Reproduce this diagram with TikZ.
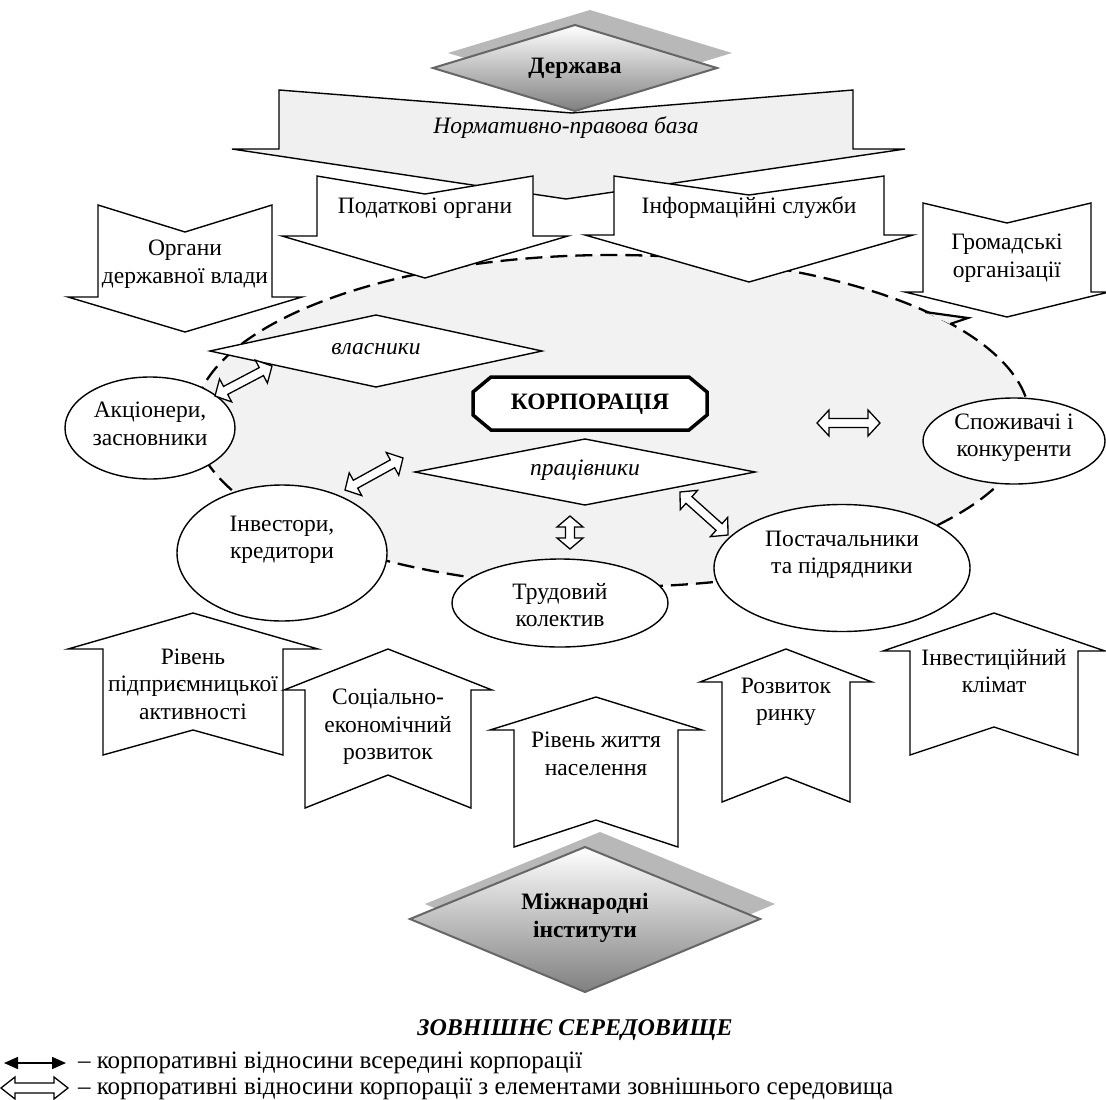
\documentclass[tikz,border=0pt]{standalone}
\usepackage{fontspec}
\setmainfont{Liberation Serif}
\usetikzlibrary{arrows.meta,shapes.geometric}
\newcommand\dnarr[7]{%
  \draw[blockarr] ({#1-#4},#2) -- (#1,#3) -- ({#1+#4},#2) -- ({#1+#4},#5) -- ({#1+#6},#5) -- (#1,#7) -- ({#1-#6},#5) -- ({#1-#4},#5) -- cycle;}
\newcommand\uparr[7]{%
  \draw[blockarr] (#1,#2) -- ({#1+#4},#3) -- ({#1+#5},#3) -- ({#1+#5},#6) -- (#1,#7) -- ({#1-#5},#6) -- ({#1-#5},#3) -- ({#1-#4},#3) -- cycle;}
\newcommand\hollowarr[5]{%
  \pgfpointdiff{\pgfpointanchor{#1}{center}}{\pgfpointanchor{#2}{center}}%
  \pgfgetlastxy{\hax}{\hay}%
  \pgfmathsetmacro\hlen{veclen(\hax,\hay)}%
  \pgfmathsetmacro\hang{atan2(\hay,\hax)}%
  \draw[hollow,shift={(#1)},rotate=\hang] (0,0) -- (#3,#4) -- (#3,#5) -- ({\hlen-#3},#5) -- ({\hlen-#3},#4) -- (\hlen,0) -- ({\hlen-#3},-#4) -- ({\hlen-#3},-#5) -- (#3,-#5) -- (#3,-#4) -- cycle;}
\begin{document}
\begin{tikzpicture}[x=1pt,y=-1pt,
  every node/.style={inner sep=0pt, outer sep=0pt, align=center, font=\fontsize{23.5}{27.5}\selectfont},
  boldtxt/.style={font=\fontsize{23.5}{27.5}\selectfont\bfseries},
  itxt/.style={font=\fontsize{23.5}{27.5}\selectfont\itshape},
  legtxt/.style={anchor=west, font=\fontsize{25}{28}\selectfont},
  blockarr/.style={draw=black, line width=1.4pt, fill=white, line join=miter},
  hollow/.style={draw=black, line width=1.3pt, fill=white, line join=miter},
  ellnode/.style={ellipse, draw=black, line width=1.4pt, fill=white},
  diam/.style={draw=black, line width=1.4pt, fill=white},
  gdiam/.style={draw=black!60, line width=2pt, top color=white, bottom color=black!50},
  shad/.style={fill=black!28},
  envell/.style={draw=black, fill=black!5, line width=2.3pt, dash pattern=on 17pt off 8pt},
]
\useasboundingbox (0,0) rectangle (1106,1100);
\fill[white] (0,0) rectangle (1106,1100);

% environment ellipse
\draw[envell] (612,421) ellipse [x radius=418pt, y radius=166pt];
\filldraw[draw=black, fill=black!5, line width=2.2pt, line join=miter] (925,312) -- (968,318) -- (950,324);

% top: state
\draw[blockarr, fill=black!6] (279,90) -- (572,113) -- (853,90) -- (853,149) -- (905,149) -- (566,199) -- (232,149) -- (279,149) -- cycle;
\node[itxt] (norm) at (566,128) {Нормативно-правова база};
\fill[shad] (590,10) -- (732,53) -- (590,96) -- (448,53) -- cycle;
\draw[gdiam] (575,25) -- (717,68) -- (575,111) -- (433,68) -- cycle;
\node[boldtxt] (derzh) at (575,68) {Держава};

\dnarr{425}{176}{194}{108}{236}{143}{278}
\node (podat) at (425,208) {Податкові органи};
\dnarr{749}{176}{195}{135}{235}{164}{282}
\node (inform) at (749,208) {Інформаційні служби};
\dnarr{185}{205}{232}{87}{297}{117}{332}
\node (organy) at (185,264) {Органи\\державної влади};
\dnarr{1007}{203}{223}{84}{292}{102}{317}
\node (hromad) at (1007,258) {Громадські\\організації};

% inner shapes
\draw[diam] (210,351) -- (376,315) -- (542,351) -- (376,387) -- cycle;
\node[itxt] (vlasn) at (376,349) {власники};
\draw[diam] (415,472) -- (585,439) -- (755,472) -- (585,505) -- cycle;
\node[itxt] (prac) at (585,470) {працівники};
\draw[black, line width=3.5pt, fill=white, line join=miter] (491,377) -- (689,377) -- (707,392) -- (707,415) -- (689,430) -- (491,430) -- (473,415) -- (473,392) -- cycle;
\node[boldtxt] (korp) at (590,404) {КОРПОРАЦІЯ};

% ellipses
\node[ellnode, minimum width=170pt, minimum height=102pt] (akc) at (150,428) {};
\node (akct) at (150,424) {Акціонери,\\засновники};
\node[ellnode, minimum width=182pt, minimum height=86pt] (spoz) at (1014,441) {};
\node (spozt) at (1014,438) {Споживачі і\\конкуренти};
\node[ellnode, minimum width=210pt, minimum height=136pt] (inv) at (282,553) {};
\node (invt) at (282,540) {Інвестори,\\кредитори};
\node[ellnode, minimum width=216pt, minimum height=88pt] (trud) at (560,603) {};
\node (trudt) at (560,605) {Трудовий\\колектив};
\node[ellnode, minimum width=256pt, minimum height=127pt] (post) at (842,568) {};
\node (postt) at (842,555) {Постачальники\\та підрядники};

% hollow double arrows
\coordinate (a1s) at (215,396); \coordinate (a1e) at (272,366);
\coordinate (a2s) at (345,490); \coordinate (a2e) at (403,458);
\coordinate (a3s) at (570,516); \coordinate (a3e) at (570,549);
\coordinate (a4s) at (680,492); \coordinate (a4e) at (728,535);
\coordinate (a5s) at (817,423); \coordinate (a5e) at (880,423);
\hollowarr{a1s}{a1e}{12}{13}{4.5}
\hollowarr{a2s}{a2e}{12}{13}{4.5}
\hollowarr{a3s}{a3e}{11}{13}{4.5}
\hollowarr{a4s}{a4e}{12}{13}{4.5}
\hollowarr{a5s}{a5e}{12}{13}{4.5}

% bottom arrows
\uparr{193}{613}{649}{125}{90}{755}{730}
\node (riven1) at (193,684) {Рівень\\підприємницької\\активності};
\uparr{388}{649}{690}{104}{83}{808}{775}
\node (soc) at (388,727) {Соціально-\\економічний\\розвиток};
\uparr{596}{697}{730}{106}{82}{847}{820}
\node (riven2) at (596,754) {Рівень життя\\населення};
\uparr{786}{649}{682}{86}{64}{802}{777}
\node (rozv) at (786,702) {Розвиток\\ринку};
\uparr{994}{613}{651}{111}{84}{755}{727}
\node (invcl) at (994,671) {Інвестиційний\\клімат};

% international institutions
\fill[shad] (600,832) -- (775,904) -- (600,977) -- (425,904) -- cycle;
\draw[gdiam] (585,847) -- (760,919) -- (585,992) -- (410,919) -- cycle;
\node[boldtxt] (mizh) at (585,918) {Міжнародні\\інститути};

\node[font=\fontsize{24}{28}\selectfont\bfseries\itshape] (zovn) at (575,1030) {ЗОВНІШНЄ СЕРЕДОВИЩЕ};

% legend
\coordinate (l1s) at (4,1063); \coordinate (l1e) at (66,1063);
\draw[line width=1.6pt, {Triangle[length=14pt,width=12pt]}-{Triangle[length=14pt,width=12pt]}] (l1s) -- (l1e);
\node[legtxt] (leg1) at (78,1063) {– корпоративні відносини всередині корпорації};
\coordinate (l2s) at (1,1088); \coordinate (l2e) at (68,1088);
\hollowarr{l2s}{l2e}{14}{11}{5}
\node[legtxt] (leg2) at (78,1089) {– корпоративні відносини корпорації з елементами зовнішнього середовища};
\end{tikzpicture}
\end{document}
